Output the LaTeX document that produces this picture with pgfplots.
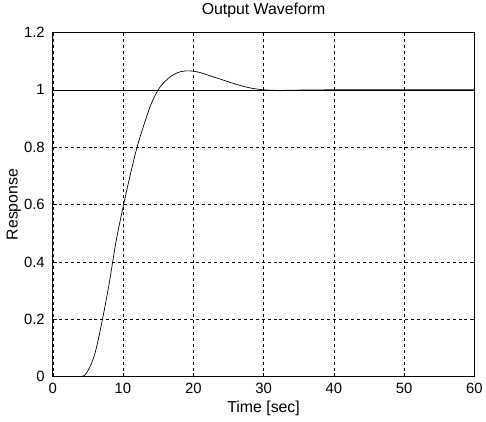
\documentclass[border=0pt]{standalone}
\usepackage{fontspec}
\setmainfont{Liberation Sans}
\usepackage{pgfplots}
\pgfplotsset{compat=1.18}
\begin{document}
\begin{tikzpicture}
\begin{axis}[
  name=main,
  scale only axis,
  width=424bp, height=346bp,
  xmin=0, xmax=60, ymin=0, ymax=1.2,
  xtick={0,10,...,60},
  ytick={0,0.2,0.4,0.6,0.8,1,1.2},
  yticklabels={0,0.2,0.4,0.6,0.8,1,1.2},
  /pgf/number format/assume math mode=true,
  tick align=inside,
  tick style={black, thin},
  major tick length=4bp,
  grid=major,
  major grid style={black, thin, dash pattern=on 3bp off 3bp},
  axis line style={black, line width=0.7pt},
  title={Output Waveform},
  xlabel={Time [sec]},
  ylabel={Response},
  tick label style={font=\fontsize{15}{16}\selectfont},
  label style={font=\fontsize{16}{17}\selectfont},
  title style={font=\fontsize{16}{17}\selectfont, at={(axis description cs:0.5,1.046)}, anchor=center},
  xlabel style={at={(axis description cs:0.5,-0.0925)}, anchor=center},
  ylabel style={at={(axis description cs:-0.092,0.5)}, anchor=center},
  xticklabel style={yshift=-3bp},
  yticklabel style={xshift=-4.5bp},
]
\addplot[black, line width=0.6pt] coordinates {(0,1) (60,1)};
\addplot[black, line width=0.7pt, smooth] coordinates {
(0,0) (4,0) (5,0.02) (6,0.08) (7,0.19) (8,0.32) (9,0.47) (10,0.59) (11,0.70)
(12,0.80) (13,0.88) (14,0.95) (15,1.0) (16,1.03) (17,1.05) (18,1.062) (19,1.066)
(20,1.065) (21,1.06) (22,1.052) (23,1.044) (24,1.036) (25,1.028) (26,1.02)
(27,1.013) (28,1.007) (29,1.003) (30,1.0) (32,0.998) (35,0.999) (40,1.0) (60,1.0)
};
\end{axis}
\path ([xshift=-53bp,yshift=-45bp]main.south west) rectangle ([xshift=9bp,yshift=32bp]main.north east);
\end{tikzpicture}
\end{document}
